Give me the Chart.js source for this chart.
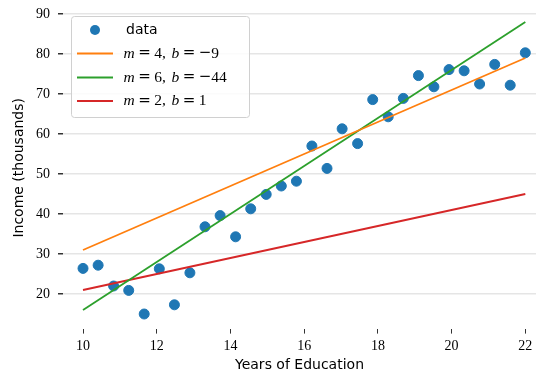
<!DOCTYPE html>
<html>
<head>
<meta charset="utf-8">
<script src="https://cdn.jsdelivr.net/npm/chart.js@4.4.0/dist/chart.umd.min.js"></script>
<style>
	body { margin: 0; background: #fff; }
	#wrap { width: 536px; height: 375px; }
</style>
</head>
<body>
<div id="wrap"><canvas id="incomeChart" width="536" height="375"></canvas></div>
<script>
// years of schooling and income (thousands)
let years = [10, 10.41, 10.83, 11.24, 11.66, 12.07, 12.48, 12.90, 13.31, 13.72,
	14.14, 14.55, 14.97, 15.38, 15.79, 16.21, 16.62, 17.03, 17.45, 17.86,
	18.28, 18.69, 19.10, 19.52, 19.93, 20.34, 20.76, 21.17, 21.59, 22];
let income = [26.4, 27.2, 22.0, 20.9, 15.0, 26.3, 17.3, 25.3, 36.8, 39.6,
	34.3, 41.3, 44.9, 47.0, 48.2, 57.0, 51.4, 61.3, 57.6, 68.6,
	64.3, 68.9, 74.6, 71.8, 76.1, 75.8, 72.5, 77.4, 72.2, 80.3];

// candidate lines y = m*x + b
let slopes = [4, 6, 2];
let intercepts = [-9, -44, 1];
let lineLabels = ['m = 4, b = \u22129', 'm = 6, b = \u221244', 'm = 2, b = 1'];
let lineColors = ['#ff7f0e', '#2ca02c', '#d62728'];

let xTicks = [10, 12, 14, 16, 18, 20, 22];
let yTicks = [20, 30, 40, 50, 60, 70, 80, 90];

let blue = '#1f77b4';
let serif = '"Liberation Serif", serif';
let sans = '"DejaVu Sans", sans-serif';

let xEnds = [years[0], years[years.length - 1]];
let lineSets = slopes.map(function (m, i) {
	return {
		type: 'line',
		label: lineLabels[i],
		data: xEnds.map(function (x) { return { x: x, y: m * x + intercepts[i] }; }),
		borderColor: lineColors[i],
		borderWidth: 1.8,
		pointRadius: 0,
		fill: false,
		order: i + 1
	};
});

let dataSet = {
	type: 'scatter',
	label: 'data',
	data: years.map(function (x, i) { return { x: x, y: income[i] }; }),
	backgroundColor: blue,
	borderColor: blue,
	pointRadius: 5,
	pointHoverRadius: 5,
	order: 10
};

// latex-ish legend text: italic m and b, wide = and minus, tex spacing
function drawMath(ctx, text, x, y) {
	let cx = x;
	let prev = '';
	for (let ch of text) {
		if (ch === ' ') {
			cx += prev === ',' ? 5.5 : 3.5;
			prev = ch;
			continue;
		}
		if (ch === 'm' || ch === 'b') ctx.font = 'italic 15.5px ' + serif;
		else if (ch === '=' || ch === '\u2212') ctx.font = '15px "DejaVu Serif", serif';
		else ctx.font = '15.5px ' + serif;
		ctx.fillText(ch, cx, y);
		cx += ctx.measureText(ch).width;
		prev = ch;
	}
}

const boxLegend = {
	id: 'boxLegend',
	afterDraw(chart) {
		let ctx = chart.ctx;
		ctx.save();
		let x0 = 71.5, y0 = 16.5, w = 178, h = 101, r = 3;
		ctx.beginPath();
		ctx.moveTo(x0 + r, y0);
		ctx.arcTo(x0 + w, y0, x0 + w, y0 + h, r);
		ctx.arcTo(x0 + w, y0 + h, x0, y0 + h, r);
		ctx.arcTo(x0, y0 + h, x0, y0, r);
		ctx.arcTo(x0, y0, x0 + w, y0, r);
		ctx.closePath();
		ctx.fillStyle = 'rgba(255,255,255,0.85)';
		ctx.fill();
		ctx.strokeStyle = '#d0d0d0';
		ctx.lineWidth = 1;
		ctx.stroke();

		let rows = [30, 53.5, 77.5, 101];
		ctx.textBaseline = 'middle';

		ctx.beginPath();
		ctx.arc(95, rows[0], 5, 0, Math.PI * 2);
		ctx.fillStyle = blue;
		ctx.fill();
		ctx.fillStyle = '#000';
		ctx.font = '14px ' + sans;
		ctx.fillText('data', 126, rows[0]);

		lineSets.forEach(function (ds, i) {
			let y = rows[i + 1];
			ctx.beginPath();
			ctx.moveTo(77, y);
			ctx.lineTo(113, y);
			ctx.strokeStyle = ds.borderColor;
			ctx.lineWidth = 1.8;
			ctx.stroke();
			ctx.fillStyle = '#000';
			drawMath(ctx, ds.label, 123.5, y);
		});
		ctx.restore();
	}
};

new Chart('incomeChart', {
	data: { datasets: [dataSet].concat(lineSets) },
	plugins: [boxLegend],
	options: {
		responsive: false,
		animation: false,
		devicePixelRatio: 1,
		layout: { autoPadding: false, padding: { top: 7, right: 0, left: 0, bottom: 0 } },
		plugins: {
			legend: { display: false },
			tooltip: { enabled: false }
		},
		scales: {
			x: {
				type: 'linear',
				min: 9.457,
				max: 22.29,
				afterBuildTicks: function (axis) {
					axis.ticks = xTicks.map(function (v) { return { value: v }; });
				},
				afterFit: function (axis) {
					axis.height = 46.4;
					axis.paddingLeft = 0;
					axis.paddingRight = 0;
				},
				border: { display: false },
				grid: {
					drawOnChartArea: false,
					drawTicks: true,
					tickLength: 5,
					tickColor: '#333',
					lineWidth: 1
				},
				ticks: {
					color: '#000',
					padding: 4,
					maxRotation: 0,
					font: { family: serif, size: 14 }
				},
				title: {
					display: true,
					text: 'Years of Education',
					color: '#000',
					font: { family: sans, size: 14 },
					padding: { top: 0, bottom: 1 }
				}
			},
			y: {
				min: 11.35,
				max: 91.75,
				afterBuildTicks: function (axis) {
					axis.ticks = yTicks.map(function (v) { return { value: v }; });
				},
				afterFit: function (axis) {
					axis.width = 63;
					axis.paddingTop = 0;
					axis.paddingBottom = 0;
				},
				border: { display: false },
				grid: {
					color: '#e5e5e5',
					lineWidth: 1.5,
					drawTicks: true,
					tickLength: 5,
					tickColor: '#333'
				},
				ticks: {
					color: '#000',
					padding: 8,
					font: { family: serif, size: 14 }
				},
				title: {
					display: true,
					text: 'Income (thousands)',
					color: '#000',
					font: { family: sans, size: 14 },
					padding: { top: 11, bottom: 0 }
				}
			}
		}
	}
});
</script>
</body>
</html>
